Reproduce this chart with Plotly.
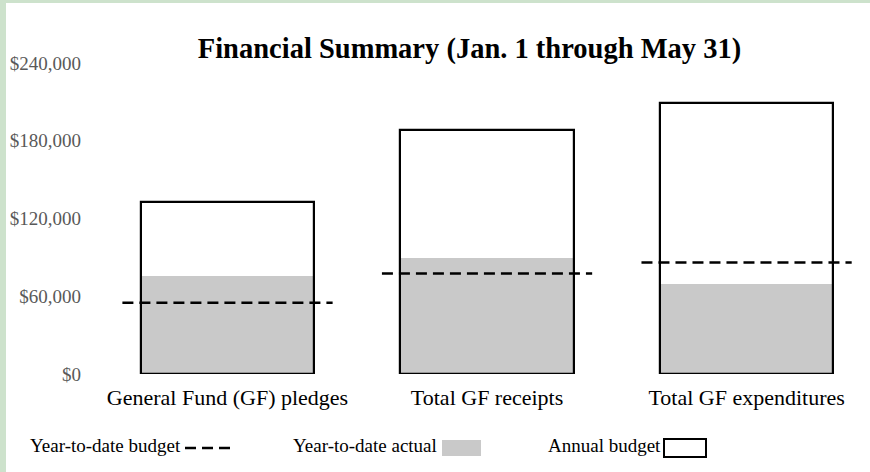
import plotly.graph_objects as go

categories = ["General Fund (GF) pledges", "Total GF receipts", "Total GF expenditures"]
annual_budget = [133000, 188500, 209500]
ytd_actual = [76000, 89500, 69500]
ytd_budget = [55000, 77500, 86000]
tick_vals = [0, 60000, 120000, 180000, 240000]
tick_text = ["$0", "$60,000", "$120,000", "$180,000", "$240,000"]
legend_labels = ["Year-to-date budget", "Year-to-date actual", "Annual budget"]

FONT = "Liberation Serif, Times New Roman, serif"
W, H = 870, 472
L, R, T, B = 100, 10, 63, 98  # plot area: x 100..860, y 63..374
PW, PH = W - L - R, H - T - B

def px(x):
    return (x - L) / PW

def py(y):
    return (H - B - y) / PH

xs = list(range(len(categories)))
bar_w = 0.667
dash_half = 0.405

fig = go.Figure()
fig.add_trace(go.Bar(x=xs, y=annual_budget, width=bar_w, marker=dict(color="white", line=dict(width=0)),
                     showlegend=False, hoverinfo="skip"))
fig.add_trace(go.Bar(x=xs, y=ytd_actual, width=bar_w, marker=dict(color="#c9c9c9", line=dict(width=0)),
                     showlegend=False))
fig.add_trace(go.Bar(x=xs, y=annual_budget, width=bar_w,
                     marker=dict(color="rgba(0,0,0,0)", line=dict(width=2.2, color="black")),
                     showlegend=False))
lx, ly = [], []
for i, v in zip(xs, ytd_budget):
    lx += [i - dash_half, i + dash_half, None]
    ly += [v, v, None]
fig.add_trace(go.Scatter(x=lx, y=ly, mode="lines", line=dict(color="black", width=2.5, dash="11px,6px"),
                         showlegend=False))

shapes = [
    # green frame bands
    dict(type="rect", xref="paper", yref="paper", x0=px(0), x1=px(6), y0=py(H), y1=py(0),
         fillcolor="#cde2cc", line=dict(width=0), layer="below"),
    dict(type="rect", xref="paper", yref="paper", x0=px(0), x1=px(W), y0=py(3), y1=py(0),
         fillcolor="#cde2cc", line=dict(width=0), layer="below"),
    # legend symbols
    dict(type="line", xref="paper", yref="paper", x0=px(185), x1=px(231), y0=py(448), y1=py(448),
         line=dict(color="black", width=2.5, dash="11px,6px")),
    dict(type="rect", xref="paper", yref="paper", x0=px(442), x1=px(481), y0=py(456), y1=py(440),
         fillcolor="#c9c9c9", line=dict(width=0)),
    dict(type="rect", xref="paper", yref="paper", x0=px(664), x1=px(706), y0=py(457), y1=py(439),
         fillcolor="white", line=dict(width=2, color="black")),
]

annotations = []
for label, xl in zip(legend_labels, [28, 291, 546]):
    annotations.append(dict(text=label, xref="paper", yref="paper", x=px(xl), y=py(446),
                            xanchor="left", yanchor="middle", showarrow=False,
                            font=dict(family=FONT, size=19, color="black")))

fig.update_layout(
    width=W, height=H,
    margin=dict(l=L, r=R, t=T, b=B, pad=0),
    paper_bgcolor="white", plot_bgcolor="white",
    barmode="overlay", bargap=0,
    title=dict(text="<b>Financial Summary (Jan. 1 through May 31)</b>", x=469.5 / W, xanchor="center",
               y=1 - 48 / H, yanchor="middle", xref="container", yref="container",
               font=dict(family=FONT, size=28.5, color="black")),
    xaxis=dict(range=[-0.4913, 2.437], tickmode="array", tickvals=xs, ticktext=categories,
               showgrid=False, zeroline=False, showline=False, ticks="",
               ticklabelstandoff=8,
               tickfont=dict(family=FONT, size=22, color="black")),
    yaxis=dict(range=[0, 240000], tickmode="array", tickvals=tick_vals, ticktext=tick_text,
               showgrid=False, zeroline=False, showline=False, ticks="",
               ticklabelstandoff=18,
               tickfont=dict(family=FONT, size=19, color="#595959")),
    shapes=shapes, annotations=annotations,
    showlegend=False,
)

fig.write_html("out.html", config={"displayModeBar": False},
               post_script="document.body.style.margin='0';document.body.style.padding='0';")
